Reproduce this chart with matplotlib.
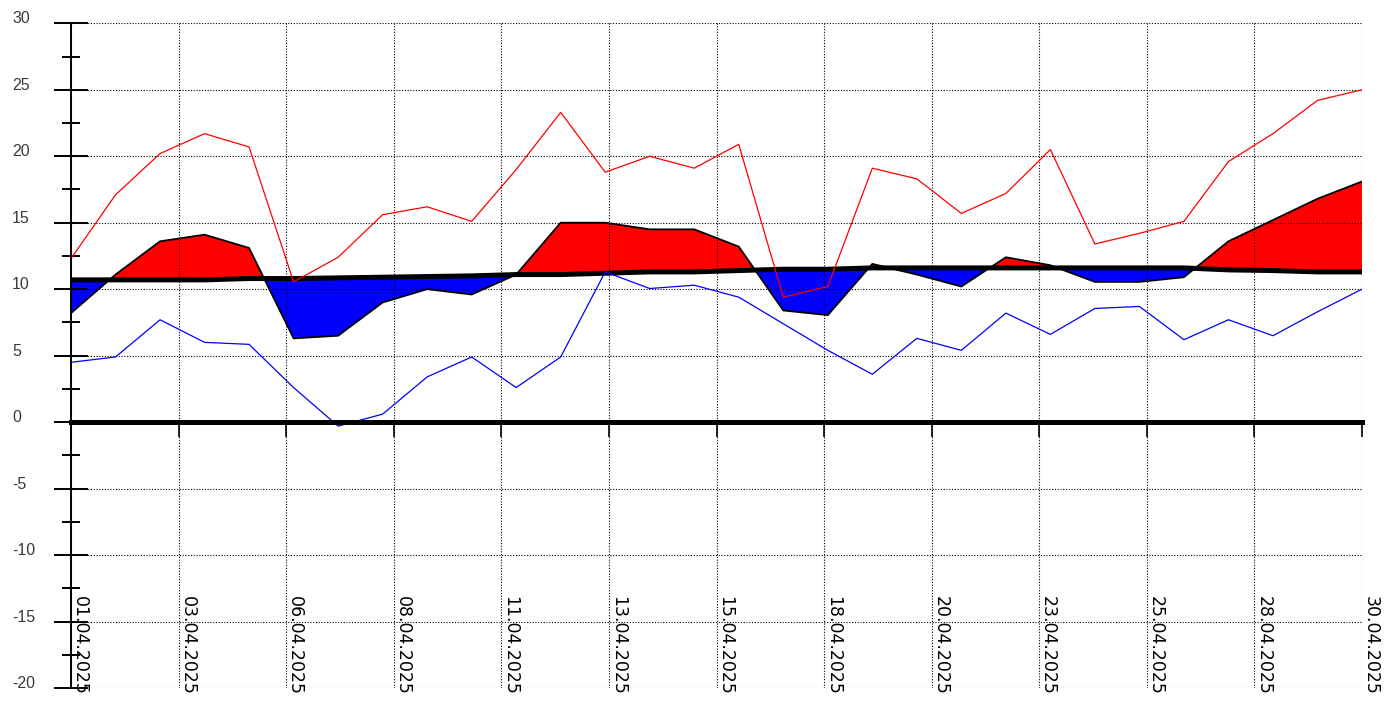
import numpy as np
import matplotlib.pyplot as plt

# daily values for April 2025 (index 0 = 01.04.2025)
t_max = [12.3, 17.1, 20.2, 21.7, 20.7, 10.55, 12.4, 15.6, 16.2, 15.1,
         19.0, 23.3, 18.8, 20.0, 19.1, 20.9, 9.4, 10.2, 19.1, 18.3,
         15.7, 17.2, 20.5, 13.4, 14.2, 15.1, 19.6, 21.7, 24.2, 25.0]
t_min = [4.5, 4.9, 7.7, 6.0, 5.85, 2.6, -0.3, 0.6, 3.4, 4.9,
         2.6, 4.9, 11.3, 10.05, 10.3, 9.4, 7.4, 5.4, 3.6, 6.3,
         5.4, 8.2, 6.6, 8.55, 8.7, 6.2, 7.7, 6.5, 8.3, 10.0]
t_mean = [8.2, 11.1, 13.6, 14.1, 13.1, 6.3, 6.5, 9.0, 10.0, 9.6,
          11.1, 15.0, 15.0, 14.5, 14.5, 13.2, 8.4, 8.05, 11.9, 11.1,
          10.2, 12.4, 11.8, 10.55, 10.55, 10.9, 13.6, 15.2, 16.8, 18.1]
t_clim = [10.7, 10.7, 10.7, 10.7, 10.8, 10.8, 10.85, 10.9, 10.95, 11.0,
          11.1, 11.1, 11.2, 11.3, 11.3, 11.4, 11.5, 11.5, 11.6, 11.6,
          11.6, 11.6, 11.6, 11.6, 11.6, 11.6, 11.45, 11.4, 11.3, 11.3]
date_labels = ["01.04.2025", "03.04.2025", "06.04.2025", "08.04.2025",
               "11.04.2025", "13.04.2025", "15.04.2025", "18.04.2025",
               "20.04.2025", "23.04.2025", "25.04.2025", "28.04.2025",
               "30.04.2025"]
y_major = list(range(-20, 31, 5))

days = np.arange(len(t_max))
mean = np.array(t_mean)
clim = np.array(t_clim)

fig = plt.figure(figsize=(13.94, 7.09), dpi=100)
ax = fig.add_axes([71 / 1394, 1 - 688 / 709, 1291 / 1394, 664.7 / 709])
ax.set_xlim(0, 29)
ax.set_ylim(-20, 30)

# anomaly fill between daily mean and climate mean
ax.fill_between(days, mean, clim, where=mean >= clim, interpolate=True,
                color="#ff0000", linewidth=0)
ax.fill_between(days, mean, clim, where=mean <= clim, interpolate=True,
                color="#0000ff", linewidth=0)
ax.plot(days, mean, color="black", linewidth=1.3)
ax.plot(days, clim, color="black", linewidth=3.6, solid_capstyle="butt")

ax.plot(days, t_max, color="#ff0000", linewidth=0.9)
ax.plot(days, t_min, color="#0000ff", linewidth=0.9)

# axes look
ax.spines["top"].set_visible(False)
ax.spines["right"].set_visible(False)
ax.spines["left"].set_linewidth(1.4)
ax.spines["bottom"].set_position(("data", 0))
ax.spines["bottom"].set_linewidth(3.6)
ax.grid(True, which="major", color="black", linestyle=(0, (1, 1.5)), linewidth=0.8)

ax.set_xticks(np.linspace(0, 29, len(date_labels)), labels=date_labels)
ax.tick_params(axis="x", direction="out", length=11, width=1.2, pad=114,
               labelsize=12.5, labelcolor="black")
for lbl in ax.get_xticklabels():
    lbl.set_rotation(270)
    lbl.set_ha("left")
    lbl.set_va("top")

ax.set_yticks(y_major, labels=[str(v) for v in y_major])
ax.set_yticks(np.arange(-17.5, 30, 5), minor=True)
ax.tick_params(axis="y", which="major", direction="inout", length=25, width=1.4,
               pad=30, labelsize=11.5, labelcolor="#3a3a3a")
ax.tick_params(axis="y", which="minor", direction="inout", length=13, width=1.4)
for lbl in ax.get_yticklabels():
    lbl.set_ha("left")
    lbl.set_va("baseline")
    lbl.set_fontfamily("Liberation Sans")

fig.savefig("out.png", dpi=100)
